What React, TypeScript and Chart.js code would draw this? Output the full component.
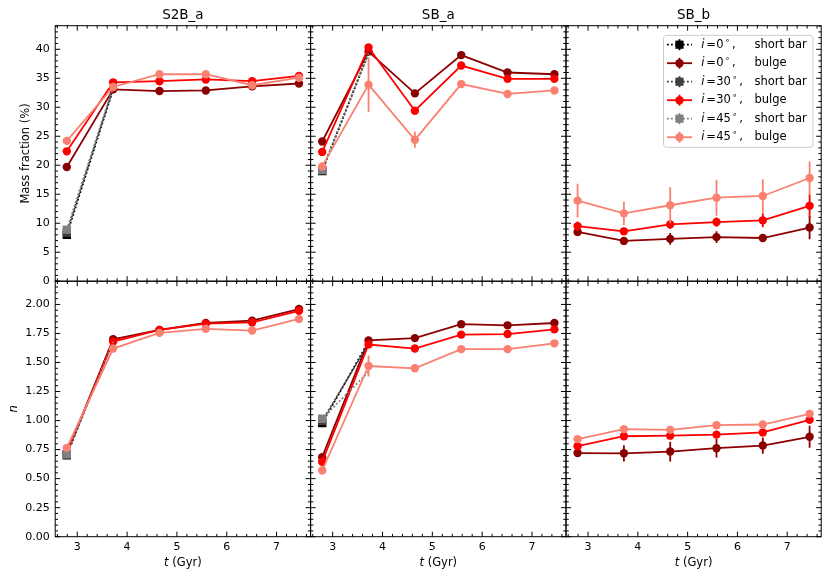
import React, { useEffect, useRef } from "react";
import { Chart, registerables } from "chart.js";

Chart.register(...registerables);

// ---------------- data ----------------
const times = [2.79, 3.72, 4.65, 5.58, 6.51, 7.45];
const shortTimes = [2.79, 3.72];

const xRange = [2.557, 7.683];
const xTickValues = [3, 4, 5, 6, 7];
const xMinorStep = 0.2;

const massRange = [0, 44.07];
const massTickValues = [0, 5, 10, 15, 20, 25, 30, 35, 40];
const massMinorStep = 1;

const nRange = [0, 2.2];
const nTickValues = [0, 0.25, 0.5, 0.75, 1.0, 1.25, 1.5, 1.75, 2.0];
const nMinorStep = 0.05;

const panelTitles = ["S2B_a", "SB_a", "SB_b"];
const inclinations = [0, 30, 45];
const componentNames = ["short bar", "bulge"];

const noErr = [0, 0, 0, 0, 0, 0];

// Mass fraction (%) — S2B_a
const s2baMassShort0 = [8.0, 33.1];
const s2baMassShort30 = [8.4, 33.3];
const s2baMassShort45 = [8.9, 33.5];
const s2baMassBulge0 = [19.7, 33.1, 32.8, 32.9, 33.6, 34.1];
const s2baMassBulge30 = [22.4, 34.3, 34.5, 34.8, 34.5, 35.4];
const s2baMassBulge45 = [24.2, 33.5, 35.7, 35.7, 33.8, 35.1];

// Mass fraction (%) — SB_a
const sbaMassShort0 = [19.0, 39.4];
const sbaMassShort30 = [19.1, 39.4];
const sbaMassShort45 = [19.2, 39.3];
const sbaMassBulge0 = [24.1, 39.6, 32.4, 39.0, 36.0, 35.7];
const sbaMassBulge30 = [22.3, 40.3, 29.4, 37.2, 34.9, 34.9];
const sbaMassBulge45 = [19.8, 33.9, 24.4, 34.0, 32.3, 32.9];
const sbaMassErr45 = [0, 4.7, 1.4, 0, 0, 0];

// Mass fraction (%) — SB_b
const sbbMassBulge0 = [8.5, 6.95, 7.3, 7.6, 7.45, 9.25];
const sbbMassBulge30 = [9.5, 8.6, 9.8, 10.2, 10.5, 13.0];
const sbbMassBulge45 = [13.9, 11.7, 13.1, 14.4, 14.7, 17.8];
const sbbMassErr0 = [0.4, 0.5, 1.0, 1.0, 0.7, 2.0];
const sbbMassErr30 = [0.8, 0.5, 0.8, 0.8, 1.2, 2.0];
const sbbMassErr45 = [2.9, 2.0, 3.1, 3.1, 2.9, 2.85];

// Sersic n — S2B_a
const s2baNShort0 = [0.70, 1.70];
const s2baNShort30 = [0.71, 1.69];
const s2baNShort45 = [0.71, 1.68];
const s2baNBulge0 = [0.72, 1.70, 1.78, 1.84, 1.86, 1.96];
const s2baNBulge30 = [0.73, 1.68, 1.78, 1.835, 1.845, 1.945];
const s2baNBulge45 = [0.765, 1.62, 1.755, 1.79, 1.775, 1.875];

// Sersic n — SB_a
const sbaNShort0 = [0.978, 1.68];
const sbaNShort30 = [0.997, 1.66];
const sbaNShort45 = [1.016, 1.42];
const sbaNBulge0 = [0.685, 1.69, 1.71, 1.83, 1.82, 1.84];
const sbaNBulge30 = [0.645, 1.655, 1.62, 1.74, 1.745, 1.785];
const sbaNBulge45 = [0.57, 1.47, 1.45, 1.615, 1.615, 1.665];
const sbaNErr45 = [0, 0.09, 0, 0, 0, 0];

// Sersic n — SB_b
const sbbNBulge0 = [0.72, 0.718, 0.733, 0.762, 0.785, 0.86];
const sbbNBulge30 = [0.779, 0.865, 0.87, 0.879, 0.898, 1.006];
const sbbNBulge45 = [0.84, 0.926, 0.92, 0.96, 0.966, 1.058];
const sbbNErr0 = [0.02, 0.07, 0.085, 0.08, 0.07, 0.095];
const sbbNErr30 = [0.01, 0.03, 0.02, 0.02, 0.02, 0.03];

// ---------------- style ----------------
const FONT = "'DejaVu Sans', sans-serif";
const BULGE_COLORS = ["#8B0000", "#FF0000", "#FA8072"];
const SHORT_COLORS = ["#000000", "#404040", "#808080"];

const W = 830;
const H = 579;
const colEdges = [55.2, 310.6, 566.0, 821.2];
const rowEdges = [25.7, 281.2, 536.7];
const Y_AXIS_W = 45;
const X_AXIS_H = 40;

type Panel = {
  col: number;
  row: number;
  short: number[][];
  bulge: number[][];
  err: number[][];
};

const panels: Panel[] = [
  { col: 0, row: 0, short: [s2baMassShort0, s2baMassShort30, s2baMassShort45], bulge: [s2baMassBulge0, s2baMassBulge30, s2baMassBulge45], err: [noErr, noErr, noErr] },
  { col: 1, row: 0, short: [sbaMassShort0, sbaMassShort30, sbaMassShort45], bulge: [sbaMassBulge0, sbaMassBulge30, sbaMassBulge45], err: [noErr, noErr, sbaMassErr45] },
  { col: 2, row: 0, short: [[], [], []], bulge: [sbbMassBulge0, sbbMassBulge30, sbbMassBulge45], err: [sbbMassErr0, sbbMassErr30, sbbMassErr45] },
  { col: 0, row: 1, short: [s2baNShort0, s2baNShort30, s2baNShort45], bulge: [s2baNBulge0, s2baNBulge30, s2baNBulge45], err: [noErr, noErr, noErr] },
  { col: 1, row: 1, short: [sbaNShort0, sbaNShort30, sbaNShort45], bulge: [sbaNBulge0, sbaNBulge30, sbaNBulge45], err: [noErr, noErr, sbaNErr45] },
  { col: 2, row: 1, short: [[], [], []], bulge: [sbbNBulge0, sbbNBulge30, sbbNBulge45], err: [sbbNErr0, sbbNErr30, noErr] },
];

function buildDatasets(p: Panel) {
  const ds: any[] = [];
  for (let k = 0; k < 3; k++) {
    const sv = p.short[k];
    if (sv.length) {
      ds.push({
        label: `short${k}`,
        data: sv.map((v, i) => ({ x: shortTimes[i], y: v })),
        borderColor: SHORT_COLORS[k],
        backgroundColor: SHORT_COLORS[k],
        borderWidth: 1.8,
        borderDash: [1.8, 2.2],
        pointStyle: "rect",
        pointRadius: sv.map((_, i) => (i === 0 ? 5.9 : 0)),
        pointBorderWidth: 0,
        pointBackgroundColor: SHORT_COLORS[k],
        order: 5 - 2 * k,
        errors: [],
      });
    }
    const bv = p.bulge[k];
    ds.push({
      label: `bulge${k}`,
      data: bv.map((v, i) => ({ x: times[i], y: v })),
      borderColor: BULGE_COLORS[k],
      backgroundColor: BULGE_COLORS[k],
      borderWidth: 1.8,
      pointStyle: "circle",
      pointRadius: 4.2,
      pointBorderWidth: 0,
      pointBackgroundColor: BULGE_COLORS[k],
      order: 4 - 2 * k,
      errors: p.err[k],
    });
  }
  return ds;
}

function minorValues(min: number, max: number, step: number) {
  const out: number[] = [];
  for (let k = Math.ceil(min / step - 1e-9); k * step <= max + 1e-9; k++) out.push(k * step);
  return out;
}

function drawLegend(ctx: CanvasRenderingContext2D, a: any) {
  const bx = a.right - 8.2;
  const left = bx - 149.5;
  const top = a.top + 9.6;
  ctx.save();
  ctx.beginPath();
  (ctx as any).roundRect(left, top, 149.5, 112, 3);
  ctx.fillStyle = "rgba(255,255,255,0.85)";
  ctx.fill();
  ctx.strokeStyle = "#cccccc";
  ctx.lineWidth = 1;
  ctx.stroke();
  for (let r = 0; r < 6; r++) {
    const k = Math.floor(r / 2);
    const isShort = r % 2 === 0;
    const color = isShort ? SHORT_COLORS[k] : BULGE_COLORS[k];
    const y = top + 9.4 + r * 18.5;
    const hx0 = left + 3.5;
    const hx1 = left + 28.5;
    const mx = left + 16;
    ctx.strokeStyle = color;
    ctx.fillStyle = color;
    ctx.lineWidth = 1.8;
    ctx.setLineDash(isShort ? [1.8, 2.2] : []);
    ctx.beginPath();
    ctx.moveTo(hx0, y);
    ctx.lineTo(hx1, y);
    ctx.stroke();
    ctx.setLineDash([]);
    ctx.beginPath();
    ctx.moveTo(mx, y - 5.5);
    ctx.lineTo(mx, y + 5.5);
    ctx.stroke();
    if (isShort) {
      ctx.fillRect(mx - 4.1, y - 4.1, 8.2, 8.2);
    } else {
      ctx.beginPath();
      ctx.arc(mx, y, 4.2, 0, Math.PI * 2);
      ctx.fill();
    }
    // text
    ctx.fillStyle = "#000";
    ctx.textBaseline = "middle";
    ctx.textAlign = "left";
    ctx.font = `italic 11.5px ${FONT}`;
    ctx.fillText("i", left + 37.7, y);
    ctx.font = `11.5px ${FONT}`;
    ctx.fillText("=", left + 42.8, y);
    const num = String(inclinations[k]);
    const nx = left + 52.7;
    ctx.fillText(num, nx, y);
    const nw = ctx.measureText(num).width;
    ctx.font = `8px ${FONT}`;
    ctx.fillText("\u2218", nx + nw + 1.5, y - 4);
    ctx.font = `11.5px ${FONT}`;
    ctx.fillText(",", nx + nw + 8.5, y);
    ctx.fillText(componentNames[isShort ? 0 : 1], left + 91, y);
  }
  ctx.restore();
}

function makePlugin(p: Panel) {
  return {
    id: `panelDeco${p.col}${p.row}`,
    beforeDatasetDraw(chart: any, args: any) {
      const ds = chart.data.datasets[args.index];
      const errs: number[] = ds.errors || [];
      if (!errs.length) return;
      const { ctx } = chart;
      const xs = chart.scales.x;
      const ys = chart.scales.y;
      ctx.save();
      ctx.strokeStyle = ds.borderColor;
      ctx.lineWidth = 1.8;
      ctx.beginPath();
      ds.data.forEach((pt: any, i: number) => {
        const e = errs[i] || 0;
        if (e <= 0) return;
        const px = xs.getPixelForValue(pt.x);
        ctx.moveTo(px, ys.getPixelForValue(pt.y - e));
        ctx.lineTo(px, ys.getPixelForValue(pt.y + e));
      });
      ctx.stroke();
      ctx.restore();
    },
    afterDraw(chart: any) {
      const { ctx, chartArea: a } = chart;
      const xs = chart.scales.x;
      const ys = chart.scales.y;
      const yMajor = p.row === 0 ? massTickValues : nTickValues;
      const yStep = p.row === 0 ? massMinorStep : nMinorStep;
      ctx.save();
      ctx.strokeStyle = "#000";
      ctx.lineWidth = 1;
      ctx.beginPath();
      const MAJ = 5;
      const MIN = 2.8;
      const isMajor = (v: number, arr: number[]) => arr.some((m) => Math.abs(m - v) < 1e-6);
      minorValues(xs.min, xs.max, xMinorStep).forEach((v) => {
        const len = isMajor(v, xTickValues) ? MAJ : MIN;
        const px = xs.getPixelForValue(v);
        ctx.moveTo(px, a.bottom);
        ctx.lineTo(px, a.bottom - len);
        ctx.moveTo(px, a.top);
        ctx.lineTo(px, a.top + len);
      });
      minorValues(ys.min, ys.max, yStep).forEach((v) => {
        const len = isMajor(v, yMajor) ? MAJ : MIN;
        const py = ys.getPixelForValue(v);
        ctx.moveTo(a.left, py);
        ctx.lineTo(a.left + len, py);
        ctx.moveTo(a.right, py);
        ctx.lineTo(a.right - len, py);
      });
      ctx.stroke();
      ctx.strokeRect(a.left, a.top, a.right - a.left, a.bottom - a.top);

      ctx.fillStyle = "#000";
      const cx = (a.left + a.right) / 2;
      if (p.row === 0) {
        ctx.font = `13.5px ${FONT}`;
        ctx.textAlign = "center";
        ctx.textBaseline = "alphabetic";
        ctx.fillText(panelTitles[p.col], cx, a.top - 6.8);
      }
      if (p.row === 1) {
        ctx.textBaseline = "alphabetic";
        ctx.textAlign = "left";
        ctx.font = `italic 11.5px ${FONT}`;
        const tw = ctx.measureText("t").width;
        ctx.font = `11.5px ${FONT}`;
        const rest = " (Gyr)";
        const rw = ctx.measureText(rest).width;
        const x0 = cx - (tw + rw) / 2;
        ctx.font = `italic 11.5px ${FONT}`;
        ctx.fillText("t", x0, 565.5);
        ctx.font = `11.5px ${FONT}`;
        ctx.fillText(rest, x0 + tw, 565.5);
      }
      if (p.col === 0) {
        const cy = (a.top + a.bottom) / 2;
        ctx.save();
        ctx.textAlign = "center";
        ctx.textBaseline = "alphabetic";
        if (p.row === 0) {
          ctx.translate(28.8, cy);
          ctx.rotate(-Math.PI / 2);
          ctx.font = `11.5px ${FONT}`;
          ctx.fillText("Mass fraction (%)", 0, 0);
        } else {
          ctx.translate(17.3, cy);
          ctx.rotate(-Math.PI / 2);
          ctx.font = `italic 11.5px ${FONT}`;
          ctx.fillText("n", 0, 0);
        }
        ctx.restore();
      }
      if (p.col === 2 && p.row === 0) drawLegend(ctx, a);
      ctx.restore();
    },
  };
}

function makeConfig(p: Panel): any {
  const yMin = p.row === 0 ? massRange[0] : nRange[0];
  const yMax = p.row === 0 ? massRange[1] : nRange[1];
  const yTicks = p.row === 0 ? massTickValues : nTickValues;
  const showX = p.row === 1;
  const showY = p.col === 0;
  const xScale: any = {
    type: "linear",
    min: xRange[0],
    max: xRange[1],
    display: showX,
    grid: { display: false, drawTicks: false },
    border: { display: false },
    afterBuildTicks: (s: any) => {
      s.ticks = xTickValues.map((v) => ({ value: v }));
    },
    ticks: {
      autoSkip: false,
      maxRotation: 0,
      padding: 3.5,
      color: "#000",
      font: { family: FONT, size: 11 },
      callback: (v: any) => String(v),
    },
  };
  if (showX) xScale.afterFit = (s: any) => { s.height = X_AXIS_H; };
  const yScale: any = {
    type: "linear",
    min: yMin,
    max: yMax,
    display: showY,
    grid: { display: false, drawTicks: false },
    border: { display: false },
    afterBuildTicks: (s: any) => {
      s.ticks = yTicks.map((v) => ({ value: v }));
    },
    ticks: {
      autoSkip: false,
      padding: 5.5,
      color: "#000",
      font: { family: FONT, size: 11 },
      callback: (v: any) => (p.row === 0 ? String(v) : Number(v).toFixed(2)),
    },
  };
  if (showY) yScale.afterFit = (s: any) => { s.width = Y_AXIS_W; };

  return {
    type: "line",
    data: { datasets: buildDatasets(p) },
    options: {
      animation: false,
      responsive: false,
      maintainAspectRatio: false,
      devicePixelRatio: 1,
      events: [],
      layout: {
        padding: {
          left: p.col === 0 ? colEdges[0] - Y_AXIS_W : colEdges[p.col],
          right: W - colEdges[p.col + 1],
          top: rowEdges[p.row],
          bottom: p.row === 1 ? H - rowEdges[2] - X_AXIS_H : H - rowEdges[1],
        },
      },
      plugins: { legend: { display: false }, tooltip: { enabled: false }, title: { display: false } },
      scales: { x: xScale, y: yScale },
    },
    plugins: [makePlugin(p)],
  };
}

export default function App() {
  const refs = useRef<(HTMLCanvasElement | null)[]>([]);
  useEffect(() => {
    const charts = panels.map((p, i) => new Chart(refs.current[i] as HTMLCanvasElement, makeConfig(p)));
    return () => charts.forEach((c) => c.destroy());
  }, []);
  return (
    <div style={{ position: "absolute", left: 0, top: 0, width: W, height: H, background: "#fff" }}>
      {panels.map((p, i) => (
        <canvas
          key={i}
          ref={(el) => { refs.current[i] = el; }}
          width={W}
          height={H}
          style={{ position: "absolute", left: 0, top: 0, width: W, height: H }}
        />
      ))}
    </div>
  );
}
